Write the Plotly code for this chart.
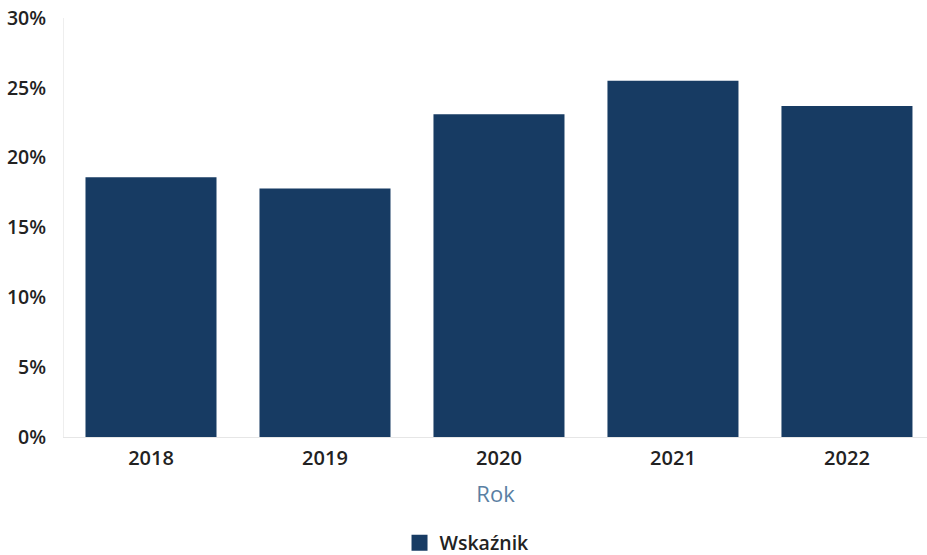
import plotly.graph_objects as go

years = ["2018", "2019", "2020", "2021", "2022"]
values = [18.6, 17.8, 23.1, 25.5, 23.7]
y_ticks = [0, 5, 10, 15, 20, 25, 30]
y_tick_labels = ["0%", "5%", "10%", "15%", "20%", "25%", "30%"]
series_name = "Wskaźnik"
bar_color = "#173b63"

fig = go.Figure()
fig.add_trace(go.Bar(
    x=years, y=values, name=series_name,
    marker=dict(color=bar_color, line=dict(width=0)),
    showlegend=False,
))
# legend entry with a larger square swatch
fig.add_trace(go.Scatter(
    x=[None], y=[None], mode="markers", name=series_name,
    marker=dict(symbol="square", size=16, color=bar_color),
    showlegend=True, hoverinfo="skip",
))

fig.update_layout(
    width=927, height=555,
    margin=dict(l=64, r=0, t=18, b=118, autoexpand=False),
    paper_bgcolor="white", plot_bgcolor="white",
    bargap=0.247,
    font=dict(family="Open Sans", color="#222222", size=16),
    showlegend=True,
    legend=dict(orientation="h", x=0.467, xanchor="center", y=-0.253, yanchor="middle",
                font=dict(size=19.5, color="#222222", weight=600), itemwidth=30),
    xaxis=dict(
        type="category", range=[-0.5, 4.46], automargin=False,
        title=dict(text="Rok", font=dict(size=22, color="#5a7fa3"), standoff=16),
        tickfont=dict(size=20, color="#222222", weight=600),
        showline=True, linecolor="#e6e6e6", linewidth=1,
        showgrid=False, ticks="", ticklabelstandoff=3,
    ),
    yaxis=dict(
        range=[0, 30], tickvals=y_ticks, ticktext=y_tick_labels, automargin=False,
        tickfont=dict(size=19.5, color="#222222", weight=600),
        showline=True, linecolor="#eeeeee", linewidth=1,
        showgrid=False, zeroline=False, ticks="", ticklabelstandoff=13,
    ),
)

fig.write_html("out.html", config={"displayModeBar": False},
               post_script="document.body.style.margin='0';")
